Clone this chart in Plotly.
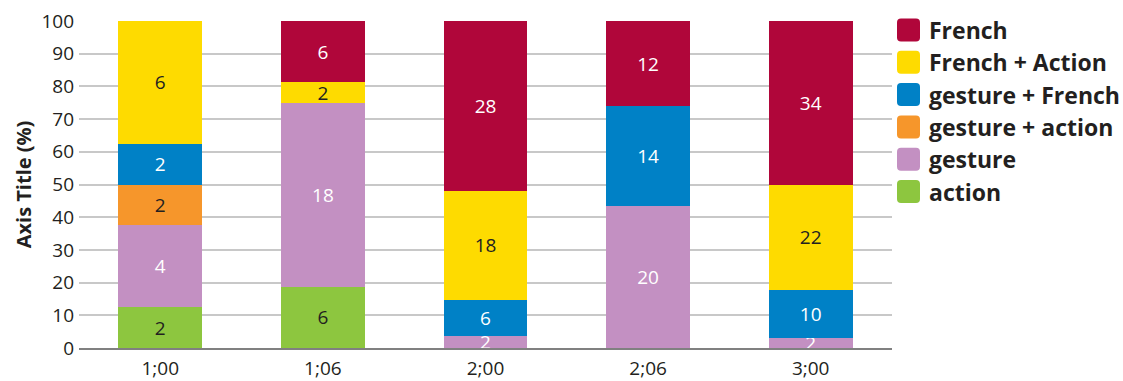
import plotly.graph_objects as go

# Age groups (years;months)
categories = ["1;00", "1;06", "2;00", "2;06", "3;00"]

# Counts per modality at each age (stacked bottom to top)
action = [2, 6, 0, 0, 0]
gesture = [4, 18, 2, 20, 2]
gesture_action = [2, 0, 0, 0, 0]
gesture_french = [2, 0, 6, 14, 10]
french_action = [6, 2, 18, 0, 22]
french = [0, 6, 28, 12, 34]

series_names = ["action", "gesture", "gesture + action", "gesture + French",
                "French + Action", "French"]
series_values = [action, gesture, gesture_action, gesture_french,
                 french_action, french]
series_colors = ["#8DC63F", "#C390C2", "#F6962B", "#0081C6", "#FEDB00", "#B0063A"]
label_colors = ["#231F20", "#FFFFFF", "#231F20", "#FFFFFF", "#231F20", "#FFFFFF"]

y_ticks = list(range(0, 101, 10))

W, H = 1123, 381
L, R, T, B = 79, 231, 21, 33
FONT = "Open Sans"

fig = go.Figure()
for name, vals, col, tcol in zip(series_names, series_values, series_colors, label_colors):
    fig.add_trace(go.Bar(
        x=categories,
        y=vals,
        name=name,
        marker=dict(color=col, line=dict(width=0)),
        text=[str(v) if v else "" for v in vals],
        textposition="inside",
        insidetextanchor="middle",
        textangle=0,
        textfont=dict(family=FONT, size=19, color=tcol),
        hoverinfo="skip",
        showlegend=False,
    ))

fig.update_layout(
    width=W, height=H,
    margin=dict(l=L, r=R, t=T, b=B, pad=0),
    barmode="stack",
    barnorm="percent",
    bargap=0.484,
    paper_bgcolor="white",
    plot_bgcolor="white",
    uniformtext=dict(minsize=19, mode="show"),
    font=dict(family=FONT, color="#231F20"),
)

fig.update_yaxes(
    automargin=False,
    range=[0, 100],
    tickvals=y_ticks,
    ticktext=[str(v) for v in y_ticks],
    tickfont=dict(family=FONT, size=19, color="#231F20"),
    showgrid=True, gridcolor="#C8C8C8", gridwidth=1.5,
    zeroline=False,
    showline=False,
    ticks="", ticklabelstandoff=4,
    title=dict(text="<b>Axis Title (%)</b>",
               font=dict(family=FONT, size=20, color="#231F20"),
               standoff=4),
)
fig.update_xaxes(
    automargin=False,
    tickfont=dict(family=FONT, size=19, color="#231F20"),
    showline=True, linecolor="#808080", linewidth=2,
    showgrid=False, ticks="",
    ticklabelstandoff=2,
)

# Legend: rounded swatches with bold labels, top entry = top of stack
plot_w = W - L - R
plot_h = H - T - B


def px_x(px):
    return (px - L) / plot_w


def px_y(py):
    return 1 - (py - T) / plot_h


def rounded_rect(x0, y0, x1, y1, r):
    return (f"M{x0 + r},{y0} L{x1 - r},{y0} Q{x1},{y0} {x1},{y0 + r} "
            f"L{x1},{y1 - r} Q{x1},{y1} {x1 - r},{y1} L{x0 + r},{y1} "
            f"Q{x0},{y1} {x0},{y1 - r} L{x0},{y0 + r} Q{x0},{y0} {x0 + r},{y0} Z")


legend_order = list(range(len(series_names)))[::-1]
for i, idx in enumerate(legend_order):
    cy = 30 + 32.3 * i
    x0, x1 = 897, 920
    fig.add_shape(
        type="path", xref="paper", yref="paper",
        xsizemode="pixel", ysizemode="pixel",
        xanchor=px_x(x0), yanchor=px_y(cy),
        path=rounded_rect(0, -11.5, x1 - x0, 11.5, 4),
        fillcolor=series_colors[idx], line=dict(width=0),
    )
    fig.add_annotation(
        x=px_x(927), y=px_y(cy), xref="paper", yref="paper",
        xanchor="left", yanchor="middle", showarrow=False,
        text=f"<b>{series_names[idx]}</b>",
        font=dict(family=FONT, size=23, color="#231F20"),
    )

fig.write_html("out.html")
